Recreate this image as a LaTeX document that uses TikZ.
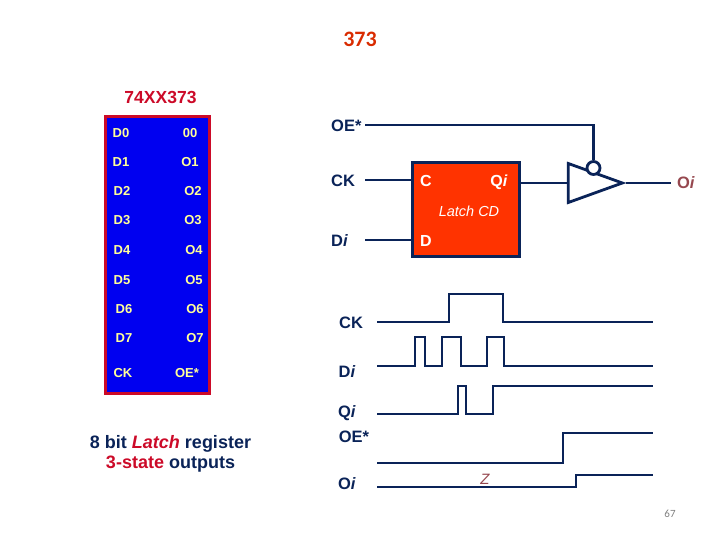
\documentclass[tikz,border=0pt]{standalone}
\usepackage{fontspec}
\setmainfont{Liberation Sans}
\newfontfamily\slidefont{Carlito}
\usetikzlibrary{positioning, shapes.geometric}
\definecolor{navy}{HTML}{0A2358}
\definecolor{chipblue}{HTML}{0000F0}
\definecolor{chipred}{HTML}{CC0A28}
\definecolor{chipyellow}{HTML}{FFFF99}
\definecolor{latchred}{HTML}{FF3300}
\definecolor{dullred}{HTML}{96484F}
\tikzstyle{wire}=[draw=navy, line width=2.8pt]
\tikzstyle{pin}=[text=chipyellow, font=\fontsize{13}{15}\selectfont\bfseries, inner sep=0pt]
\tikzstyle{sig}=[text=navy, font=\fontsize{16.5}{18}\selectfont\bfseries, inner sep=0pt]
\tikzstyle{inlabel}=[sig, anchor=west, text width=34pt, align=left, text height=16pt, text depth=2pt]
\tikzstyle{inner}=[text=white, font=\fontsize{16}{18}\selectfont\bfseries, inner sep=0pt]
\tikzstyle{buffer}=[draw=navy, line width=2.8pt, fill=white, isosceles triangle, isosceles triangle stretches, shape border rotate=0, inner sep=0pt, minimum width=39pt, minimum height=54pt, anchor=apex]

\begin{document}
\begin{tikzpicture}[x=1pt, y=-1pt]
        \useasboundingbox (0,0) rectangle (720,540);

        % Title and page number
        \node[text=latchred!85!black, font=\slidefont\fontsize{22}{24}\selectfont\bfseries] (title) at (360,39) {373};
        \node[text=gray, font=\slidefont\fontsize{11}{13}\selectfont] (page) at (670,514) {67};

        % Chip
        \node[text=chipred, font=\fontsize{17.5}{19}\selectfont\bfseries] (chipname) at (160.5,97) {74XX373};
        \node[draw=chipred, fill=chipblue, line width=3pt, minimum width=104pt, minimum height=276pt, inner sep=0pt] (chip) at (157.5,255) {};
        \node[pin] (d0) at (121,133) {D0};
        \node[pin] (o0) at (190,133) {00};
        \node[pin] (d1) at (121,162) {D1};
        \node[pin] (o1) at (190,162) {O1};
        \node[pin] (d2) at (122,191) {D2};
        \node[pin] (o2) at (193,191) {O2};
        \node[pin] (d3) at (122,220) {D3};
        \node[pin] (o3) at (193,220) {O3};
        \node[pin] (d4) at (122,250) {D4};
        \node[pin] (o4) at (194,250) {O4};
        \node[pin] (d5) at (122,280) {D5};
        \node[pin] (o5) at (194,280) {O5};
        \node[pin] (d6) at (124,309) {D6};
        \node[pin] (o6) at (195,309) {O6};
        \node[pin] (d7) at (124,338) {D7};
        \node[pin] (o7) at (195,338) {O7};
        \node[pin] (ck) at (123,373) {CK};
        \node[pin] (oe) at (187,373) {OE*};

        % Caption
        \node[sig, font=\fontsize{18}{20}\selectfont\bfseries, align=center] (caption) at (170.5,454)
            {8 bit \textcolor{chipred}{\textit{Latch}} register\\ \textcolor{chipred}{3-state} outputs};

        % Latch
        \node[draw=navy, fill=latchred, line width=2.8pt, minimum width=107pt, minimum height=94pt, inner sep=0pt] (latch) at (466,209.5) {};
        \node[inner] (latchc) at (426,181) {C};
        \node[inner] (latchq) at (499,182) {Q\textit{i}};
        \node[inner] (latchd) at (426,241) {D};
        \node[text=white, font=\fontsize{14.5}{16}\selectfont\itshape, inner sep=0pt] (latchname) at (469,211) {Latch CD};

        % Input labels and wires
        \node[inlabel] (oelabel) at (331,125) {OE*};
        \node[inlabel] (cklabel) at (331,180) {CK};
        \node[inlabel] (dilabel) at (331,240) {D\textit{i}};
        \draw[wire] (cklabel.east) -- (cklabel.east -| latch.west);
        \draw[wire] (dilabel.east) -- (dilabel.east -| latch.west);

        % Output buffer
        \node[buffer] (buf) at (626,183) {};
        \node[draw=navy, fill=white, line width=2.8pt, circle, minimum size=13pt, inner sep=0pt] (bubble) at (593.5,168) {};
        \node[sig, text=dullred, inner xsep=6pt] (oilabel) at (686,183) {O\textit{i}};
        \draw[wire] (oelabel.east) -| (bubble.north);
        \draw[wire] (latch.east |- buf.lower side) -- (buf.lower side);
        \draw[wire] (buf.apex) -- (oilabel.west);

        % Waveforms
        \node[sig] (wck) at (351,323) {CK};
        \node[sig] (wdi) at (347,372) {D\textit{i}};
        \node[sig] (wqi) at (347,413) {Q\textit{i}};
        \node[sig] (woe) at (354,437) {OE*};
        \node[sig] (woi) at (347,484) {O\textit{i}};
        \draw[wire] (377,322) -| (449,294) -| (503,322) -- (653,322);
        \draw[wire] (377,366) -| (415,337) -| (425,366) -| (442,337) -| (461,366) -| (487,337) -| (504,366) -- (653,366);
        \draw[wire] (377,414) -| (458,386) -| (466,414) -| (493,386) -- (653,386);
        \draw[wire] (377,463) -| (563,433) -- (653,433);
        \draw[wire] (377,487) -| (576,475) -- (653,475);
        \node[text=dullred, font=\fontsize{15}{17}\selectfont\itshape, inner sep=0pt] (zlabel) at (485,479) {Z};
\end{tikzpicture}
\end{document}
